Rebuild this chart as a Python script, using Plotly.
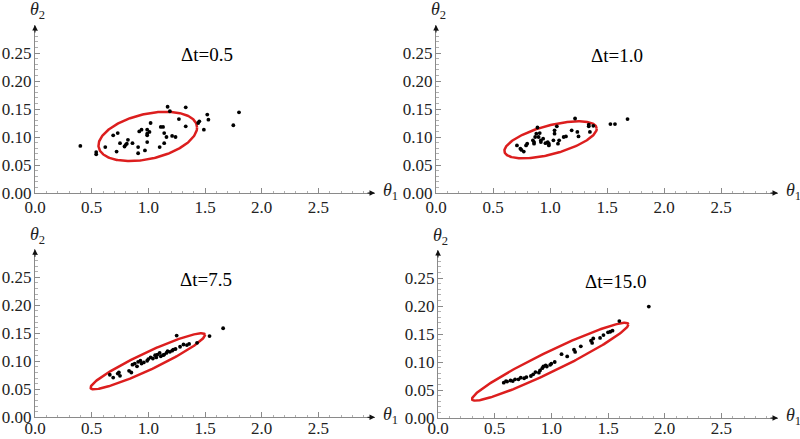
import numpy as np
import plotly.graph_objects as go

# ---------------- data ----------------
dt_labels = ["Δt=0.5", "Δt=1.0", "Δt=7.5", "Δt=15.0"]
dt_label_x = [1.52, 1.59, 1.51, 1.57]
dt_label_y = [0.248, 0.246, 0.246, 0.243]

p1_theta1 = [0.40, 0.54, 0.54, 0.62, 0.69, 0.73, 0.72, 0.75, 0.79, 0.80, 0.81, 0.82,
             0.86, 0.91, 0.91, 0.92, 0.94, 0.97, 0.99, 0.99, 0.99, 0.99, 1.01, 1.02,
             1.10, 1.11, 1.13, 1.14, 1.14, 1.16, 1.17, 1.19, 1.21, 1.24, 1.27, 1.33,
             1.33, 1.44, 1.45, 1.49, 1.52, 1.53, 1.75, 1.80]
p1_theta2 = [0.084, 0.073, 0.069, 0.082, 0.103, 0.107, 0.074, 0.089, 0.083, 0.086, 0.088, 0.095,
             0.089, 0.082, 0.071, 0.110, 0.113, 0.076, 0.113, 0.106, 0.103, 0.091, 0.109, 0.125,
             0.082, 0.118, 0.118, 0.107, 0.089, 0.100, 0.154, 0.146, 0.102, 0.100, 0.132, 0.153,
             0.119, 0.125, 0.128, 0.113, 0.140, 0.131, 0.121, 0.144]

p2_theta1 = [0.71, 0.74, 0.75, 0.77, 0.80, 0.79, 0.85, 0.86, 0.86, 0.87, 0.88, 0.89,
             0.90, 0.91, 0.92, 0.92, 0.94, 0.96, 0.98, 0.99, 0.99, 1.03, 1.04, 1.04,
             1.06, 1.07, 1.08, 1.12, 1.14, 1.19, 1.22, 1.24, 1.25, 1.34, 1.34, 1.35,
             1.38, 1.53, 1.57, 1.68]
p2_theta2 = [0.085, 0.079, 0.077, 0.074, 0.088, 0.085, 0.094, 0.088, 0.091, 0.100, 0.106, 0.117,
             0.100, 0.107, 0.094, 0.091, 0.097, 0.089, 0.091, 0.088, 0.085, 0.094, 0.106, 0.112,
             0.119, 0.088, 0.094, 0.100, 0.101, 0.112, 0.133, 0.109, 0.101, 0.122, 0.119, 0.109,
             0.120, 0.123, 0.123, 0.132]

p3_theta1 = [0.66, 0.69, 0.73, 0.74, 0.75, 0.83, 0.85, 0.86, 0.88, 0.90, 0.91, 0.93,
             0.94, 0.96, 0.99, 1.00, 1.02, 1.04, 1.06, 1.07, 1.08, 1.10, 1.11, 1.13,
             1.14, 1.16, 1.17, 1.19, 1.21, 1.22, 1.24, 1.25, 1.28, 1.31, 1.34, 1.36,
             1.43, 1.54, 1.66]
p3_theta2 = [0.076, 0.071, 0.078, 0.080, 0.074, 0.083, 0.080, 0.094, 0.096, 0.091, 0.099, 0.101,
             0.096, 0.098, 0.101, 0.104, 0.107, 0.105, 0.111, 0.107, 0.112, 0.115, 0.109, 0.111,
             0.112, 0.115, 0.118, 0.117, 0.119, 0.121, 0.122, 0.146, 0.126, 0.130, 0.129, 0.131,
             0.133, 0.145, 0.159]

p4_theta1 = [0.58, 0.60, 0.61, 0.64, 0.66, 0.68, 0.71, 0.73, 0.76, 0.78, 0.82, 0.84,
             0.86, 0.89, 0.90, 0.92, 0.93, 0.95, 0.96, 0.99, 1.00, 1.03, 1.09, 1.14,
             1.20, 1.21, 1.26, 1.35, 1.36, 1.37, 1.43, 1.46, 1.50, 1.52, 1.54, 1.60, 1.86]
p4_theta2 = [0.063, 0.066, 0.065, 0.067, 0.066, 0.069, 0.069, 0.072, 0.071, 0.073, 0.075, 0.078,
             0.082, 0.081, 0.085, 0.089, 0.092, 0.094, 0.092, 0.095, 0.097, 0.100, 0.114, 0.110,
             0.122, 0.118, 0.128, 0.138, 0.134, 0.142, 0.143, 0.148, 0.153, 0.154, 0.156, 0.173, 0.199]

# ellipse parameters: centre (cx, cy), half-extents (A, B), phase phi
ell_cx = [0.995, 1.005, 0.995, 0.99]
ell_cy = [0.101, 0.095, 0.100, 0.1005]
ell_A = [0.435, 0.405, 0.505, 0.69]
ell_B = [0.044, 0.033, 0.050, 0.0695]
ell_phi = [1.20, 0.93, 0.35, 0.29]

x_ticks = [0.0, 0.5, 1.0, 1.5, 2.0, 2.5]
x_ticktext = ["0.0", "0.5", "1.0", "1.5", "2.0", "2.5"]
y_ticks = [0.0, 0.05, 0.10, 0.15, 0.20, 0.25]
y_ticktext = ["0.00", "0.05", "0.10", "0.15", "0.20", "0.25"]

# ---------------- layout ----------------
W, H = 800, 439
panels = [  # (x0px, x1px, ybottom_px, ytop_px)
    (35, 375, 193, 25),
    (436, 778, 193, 25),
    (35, 375, 417.3, 249.3),
    (438, 778, 418, 250),
]
x_standoff = [-1, -1, -5, -5]
xs = [p1_theta1, p2_theta1, p3_theta1, p4_theta1]
ys = [p1_theta2, p2_theta2, p3_theta2, p4_theta2]

SERIF = "Times New Roman, Liberation Serif, serif"
AXC = "#8a8a8a"

fig = go.Figure()
annotations = []
layout = dict(width=W, height=H, margin=dict(l=0, r=0, t=0, b=0),
              paper_bgcolor="white", plot_bgcolor="white", showlegend=False,
              autosize=False, font=dict(family=SERIF))

for i in range(4):
    k = "" if i == 0 else str(i + 1)
    xa, ya = "x" + k, "y" + k
    x0, x1, yb, yt = panels[i]
    layout["xaxis" + k] = dict(
        domain=[x0 / W, x1 / W], range=[0, 3.0], anchor=ya, automargin=False,
        showgrid=False, zeroline=False, showline=True, linecolor=AXC, linewidth=1,
        ticks="inside", ticklen=5, tickcolor=AXC, tickvals=x_ticks, ticktext=x_ticktext,
        tickfont=dict(family=SERIF, size=17, color="#222"), ticklabelstandoff=x_standoff[i],
        minor=dict(dtick=0.1, tick0=0, ticks="inside", ticklen=2.5, tickcolor="#b0b0b0"),
    )
    layout["yaxis" + k] = dict(
        domain=[1 - yb / H, 1 - yt / H], range=[0, 0.3], anchor=xa, automargin=False,
        showgrid=False, zeroline=False, showline=True, linecolor=AXC, linewidth=1,
        ticks="inside", ticklen=5, tickcolor=AXC, tickvals=y_ticks, ticktext=y_ticktext,
        tickfont=dict(family=SERIF, size=17, color="#222"), ticklabelstandoff=-1,
        minor=dict(dtick=0.01, tick0=0, ticks="inside", ticklen=2.5, tickcolor="#b0b0b0"),
    )

    # ellipse
    t = np.linspace(0, 2 * np.pi, 241)
    ex = ell_cx[i] + ell_A[i] * np.cos(t)
    ey = ell_cy[i] + ell_B[i] * np.cos(t - ell_phi[i])
    fig.add_trace(go.Scatter(x=ex, y=ey, mode="lines", xaxis=xa, yaxis=ya,
                             line=dict(color="#dc1e1e", width=2.5), hoverinfo="skip"))
    # points
    fig.add_trace(go.Scatter(x=xs[i], y=ys[i], mode="markers", xaxis=xa, yaxis=ya,
                             marker=dict(color="black", size=3.8)))

    # axis arrows
    annotations.append(dict(x=3.0, y=0, xref=xa, yref=ya, ax=-9, ay=0,
                            showarrow=True, arrowhead=2, arrowsize=1.1, arrowwidth=1,
                            arrowcolor="#111", text=""))
    annotations.append(dict(x=0, y=0.3, xref=xa, yref=ya, ax=0, ay=9,
                            showarrow=True, arrowhead=2, arrowsize=1.1, arrowwidth=1,
                            arrowcolor="#111", text=""))
    # axis labels
    annotations.append(dict(x=x1 / W + 0.008, y=1 - (yb - 2) / H, xref="paper", yref="paper",
                            xanchor="left", yanchor="middle", showarrow=False,
                            text="<i>θ</i><sub>1</sub>",
                            font=dict(family=SERIF, size=18, color="#222")))
    annotations.append(dict(x=x0 / W - 0.009, y=1 - (yt - 14) / H, xref="paper", yref="paper",
                            xanchor="left", yanchor="middle", showarrow=False,
                            text="<i>θ</i><sub>2</sub>",
                            font=dict(family=SERIF, size=18, color="#222")))
    # Δt label
    annotations.append(dict(x=dt_label_x[i], y=dt_label_y[i], xref=xa, yref=ya, showarrow=False,
                            xanchor="center", yanchor="middle", text=dt_labels[i],
                            font=dict(family=SERIF, size=19, color="black")))

layout["annotations"] = annotations
fig.update_layout(**layout)
fig.write_html("out.html", config={"displayModeBar": False},
               post_script="document.body.style.margin='0';document.body.style.padding='0';")
